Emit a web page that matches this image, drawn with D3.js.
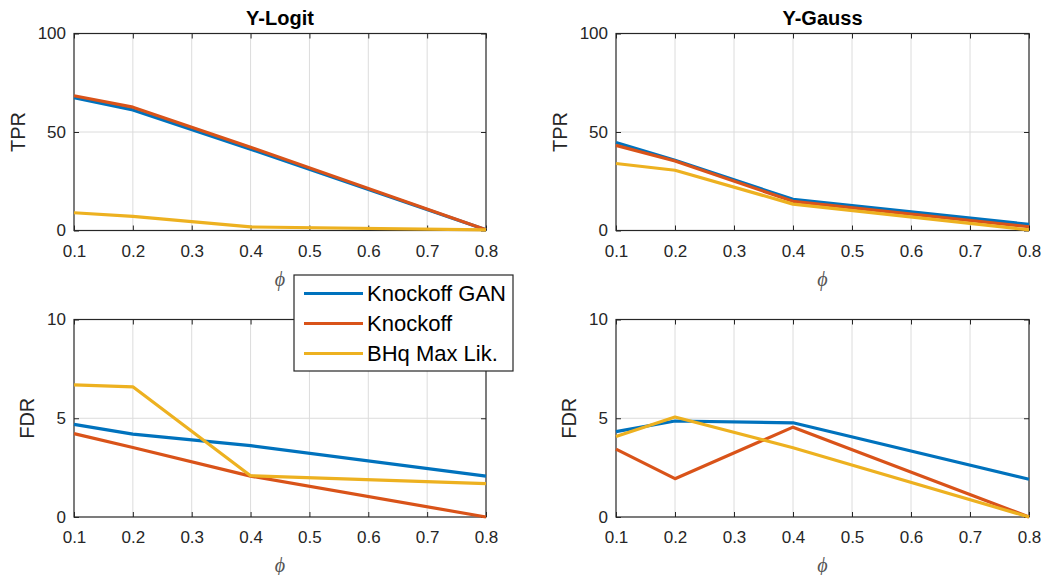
<!DOCTYPE html>
<html>
<head>
<meta charset="utf-8">
<script src="https://cdn.jsdelivr.net/npm/d3@7"></script>
<style>
  html, body { margin: 0; padding: 0; background: #fff; }
  svg { display: block; font-family: "Liberation Sans", Arial, Helvetica, sans-serif; }
</style>
</head>
<body>
<svg id="chart" width="1042" height="575"></svg>
<script>
// ---- data ----
const phi = [0.1, 0.2, 0.4, 0.8];
const xTicks = [0.1, 0.2, 0.3, 0.4, 0.5, 0.6, 0.7, 0.8];
const tprTicks = [0, 50, 100];
const fdrTicks = [0, 5, 10];
const seriesNames = ["Knockoff GAN", "Knockoff", "BHq Max Lik."];
const titles = ["Y-Logit", "Y-Gauss"];

const logitTPR_GAN = [67.4, 61.2, 41.3, 0.4];
const logitTPR_KO  = [68.4, 62.6, 42.3, 0.4];
const logitTPR_BHq = [9.0, 7.2, 1.8, 0.3];

const gaussTPR_GAN = [44.7, 35.7, 15.8, 3.1];
const gaussTPR_KO  = [43.2, 35.3, 14.8, 1.9];
const gaussTPR_BHq = [34.0, 30.6, 13.4, 0.3];

const logitFDR_GAN = [4.69, 4.20, 3.61, 2.07];
const logitFDR_KO  = [4.22, 3.52, 2.07, 0.0];
const logitFDR_BHq = [6.69, 6.59, 2.09, 1.69];

const gaussFDR_GAN = [4.32, 4.86, 4.77, 1.91];
const gaussFDR_KO  = [3.44, 1.94, 4.55, 0.0];
const gaussFDR_BHq = [4.08, 5.06, 3.51, 0.0];

const colors = ["#0072BD", "#D95319", "#EDB120"];

const panels = [
  {col: 0, row: 0, ylabel: "TPR", ticks: tprTicks, ymax: 100, series: [logitTPR_GAN, logitTPR_KO, logitTPR_BHq], title: titles[0], labelOff: 56},
  {col: 1, row: 0, ylabel: "TPR", ticks: tprTicks, ymax: 100, series: [gaussTPR_GAN, gaussTPR_KO, gaussTPR_BHq], title: titles[1], labelOff: 56},
  {col: 0, row: 1, ylabel: "FDR", ticks: fdrTicks, ymax: 10, series: [logitFDR_GAN, logitFDR_KO, logitFDR_BHq], labelOff: 47},
  {col: 1, row: 1, ylabel: "FDR", ticks: fdrTicks, ymax: 10, series: [gaussFDR_GAN, gaussFDR_KO, gaussFDR_BHq], labelOff: 47}
];

// layout
const colX = [[74, 486], [616, 1029]];
const rowY = [[33.5, 230.5], [319.5, 517]];
const axisColor = "#262626";
const gridColor = "#dcdcdc";
const tickFont = 17;
const labelFont = 20;

const svg = d3.select("#chart");

panels.forEach(p => {
  const [x0, x1] = colX[p.col];
  const [y0, y1] = rowY[p.row];
  const w = x1 - x0, h = y1 - y0;
  const g = svg.append("g").attr("transform", `translate(${x0},${y0})`);
  const x = d3.scaleLinear().domain([0.1, 0.8]).range([0, w]);
  const y = d3.scaleLinear().domain([0, p.ymax]).range([h, 0]);

  // grid
  g.append("g").selectAll("line").data(xTicks.slice(1, -1)).join("line")
    .attr("x1", d => x(d)).attr("x2", d => x(d)).attr("y1", 0).attr("y2", h)
    .attr("stroke", gridColor).attr("stroke-width", 1);
  g.append("g").selectAll("line").data(p.ticks.slice(1, -1)).join("line")
    .attr("y1", d => y(d)).attr("y2", d => y(d)).attr("x1", 0).attr("x2", w)
    .attr("stroke", gridColor).attr("stroke-width", 1);

  // axes
  const styleAxis = sel => {
    sel.select(".domain").remove();
    sel.selectAll("line").attr("stroke", axisColor);
    sel.selectAll("text").attr("fill", axisColor).style("font-size", tickFont + "px");
  };
  g.append("g").attr("transform", `translate(0,${h})`)
    .call(d3.axisBottom(x).tickValues(xTicks).tickSize(-5).tickPadding(14).tickFormat(d3.format(".1f")))
    .call(styleAxis);
  g.append("g")
    .call(d3.axisTop(x).tickValues(xTicks).tickSize(-5).tickFormat(""))
    .call(styleAxis);
  g.append("g")
    .call(d3.axisLeft(y).tickValues(p.ticks).tickSize(-5).tickPadding(8))
    .call(styleAxis);
  g.append("g").attr("transform", `translate(${w},0)`)
    .call(d3.axisRight(y).tickValues(p.ticks).tickSize(-5).tickFormat(""))
    .call(styleAxis);

  g.append("rect").attr("x", 0).attr("y", 0).attr("width", w).attr("height", h)
    .attr("fill", "none").attr("stroke", axisColor).attr("stroke-width", 1.2);

  // lines
  const line = d3.line().x((d, i) => x(phi[i])).y(d => y(d));
  p.series.forEach((s, k) => {
    g.append("path").datum(s).attr("d", line)
      .attr("fill", "none").attr("stroke", colors[k]).attr("stroke-width", 3.2)
      .attr("stroke-linejoin", "round");
  });

  // labels
  g.append("text").attr("transform", `translate(${-p.labelOff},${h / 2}) rotate(-90)`)
    .attr("text-anchor", "middle").attr("dy", "0.35em")
    .attr("fill", axisColor).style("font-size", labelFont + "px").text(p.ylabel);
  g.append("text").attr("x", w / 2).attr("y", h + 55)
    .attr("text-anchor", "middle").attr("fill", "#555")
    .style("font-size", "20px").style("font-style", "italic")
    .style("font-family", "'Liberation Serif', 'DejaVu Serif', serif").text("ϕ");
  if (p.title) {
    g.append("text").attr("x", w / 2).attr("y", -9)
      .attr("text-anchor", "middle").attr("fill", "#000")
      .style("font-size", "20px").style("font-weight", "bold").text(p.title);
  }
});

// legend
const lg = svg.append("g").attr("transform", "translate(294,275)");
lg.append("rect").attr("x", 0).attr("y", 0).attr("width", 219).attr("height", 96)
  .attr("fill", "#fff").attr("stroke", axisColor).attr("stroke-width", 1.2);
seriesNames.forEach((n, k) => {
  const yy = 18.5 + k * 30;
  lg.append("line").attr("x1", 10).attr("x2", 69).attr("y1", yy).attr("y2", yy)
    .attr("stroke", colors[k]).attr("stroke-width", 3.2);
  lg.append("text").attr("x", 73).attr("y", yy).attr("dy", "0.36em")
    .attr("fill", "#000").style("font-size", "22px").text(n);
});
</script>
</body>
</html>
